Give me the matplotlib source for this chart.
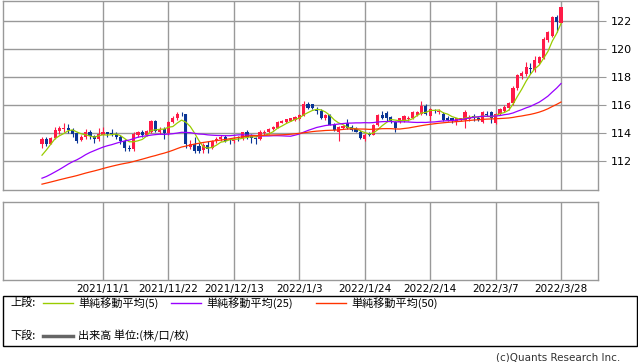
import numpy as np
import pandas as pd
import matplotlib
matplotlib.use("Agg")
import matplotlib.pyplot as plt
from matplotlib.patches import Rectangle
from matplotlib.lines import Line2D

jp = ["Noto Sans CJK JP", "DejaVu Sans"]

# closes before the first drawn candle (only used for the moving averages)
prior_closes = [109.5, 109.8, 110.25, 110.3, 110.6, 110.4, 110.4, 109.6, 109.25, 109.6,
                109.8, 109.75, 109.8, 109.7, 109.7, 110.05, 110.05, 109.85, 109.9, 110.0,
                110.0, 109.95, 109.7, 109.8, 110.3, 110.25, 109.7, 109.9, 110.0, 109.7,
                109.4, 109.7, 109.95, 109.4, 109.2, 109.8, 110.3, 110.7, 111.0, 111.5,
                112.0, 111.3, 111.05, 110.95, 111.45, 111.4, 111.6, 112.2, 113.3]

opens = [113.25, 113.6, 113.25, 113.65, 114.15, 114.3, 114.4, 114.25, 114.0, 113.5,
         113.7, 114.1, 113.8, 113.55, 113.9, 114.05, 114.0, 113.95, 113.75, 113.4,
         112.95, 112.85, 113.9, 114.1, 113.9, 114.1, 114.85, 114.1, 114.3, 114.0,
         114.8, 115.05, 115.4, 115.35, 113.0, 113.2, 113.1, 112.8, 113.15, 112.95,
         113.45, 113.55, 113.75, 113.45, 113.4, 113.75, 113.65, 114.05, 113.8, 113.65,
         113.55, 114.0, 114.05, 114.3, 114.4, 114.75, 114.8, 114.9, 114.95, 115.0,
         115.25, 116.1, 116.05, 115.75, 115.6, 115.1, 115.3, 114.6, 114.1, 114.35,
         114.7, 114.45, 114.3, 114.1, 113.55, 113.95, 113.9, 114.55, 115.3, 115.45,
         115.15, 114.8, 114.8, 114.85, 115.0, 115.1, 115.3, 115.4, 115.95, 115.25,
         115.65, 115.5, 115.4, 115.1, 115.05, 114.8, 114.95, 114.95, 115.0, 115.2,
         115.1, 114.8, 115.35, 115.5, 114.7, 115.4, 115.6, 115.8, 116.12, 117.25,
         118.1, 118.2, 118.65, 118.5, 119.05, 119.35, 120.65, 120.95, 122.3, 121.9]
highs = [113.75, 113.7, 113.75, 114.45, 114.5, 114.7, 114.65, 114.35, 114.1, 113.9,
         114.3, 114.2, 113.9, 114.35, 114.45, 114.1, 114.3, 114.1, 113.85, 113.55,
         113.15, 114.05, 114.15, 114.2, 114.25, 114.95, 114.95, 114.45, 114.45, 114.85,
         115.2, 115.5, 115.5, 115.4, 113.5, 113.7, 113.3, 113.3, 113.4, 113.5,
         113.75, 113.9, 113.85, 113.65, 113.7, 113.8, 114.1, 114.2, 113.95, 113.75,
         114.2, 114.2, 114.35, 114.5, 114.85, 114.95, 115.0, 115.1, 115.2, 115.35,
         116.3, 116.2, 116.1, 115.85, 115.7, 115.35, 115.4, 114.7, 114.5, 114.6,
         115.0, 114.55, 114.45, 114.2, 114.0, 114.05, 114.65, 115.4, 115.6, 115.55,
         115.2, 114.85, 115.1, 115.3, 115.2, 115.6, 115.6, 116.3, 116.1, 115.8,
         115.75, 115.7, 115.5, 115.2, 115.1, 115.1, 115.1, 115.65, 115.3, 115.4,
         115.2, 115.6, 115.55, 115.55, 115.45, 115.8, 116.0, 116.2, 117.35, 118.2,
         118.45, 119.1, 119.0, 119.5, 119.5, 120.85, 121.3, 122.4, 122.45, 123.05]
lows = [112.95, 113.1, 113.2, 113.6, 113.95, 114.1, 114.0, 113.75, 113.3, 113.4,
        113.6, 113.6, 113.3, 113.45, 113.85, 113.7, 113.8, 113.55, 113.2, 112.75,
        112.7, 112.75, 113.75, 113.7, 113.8, 114.0, 114.05, 113.95, 113.55, 113.9,
        114.7, 114.95, 115.25, 112.95, 112.85, 112.55, 112.6, 112.55, 112.6, 112.85,
        113.3, 113.4, 113.35, 113.25, 113.3, 113.45, 113.5, 113.6, 113.3, 113.2,
        113.5, 113.9, 113.95, 114.25, 114.35, 114.7, 114.75, 114.85, 114.9, 114.95,
        115.2, 115.75, 115.7, 115.4, 115.0, 114.95, 114.55, 114.15, 113.45, 114.3,
        114.3, 114.15, 114.05, 113.55, 113.4, 113.8, 113.85, 114.5, 115.0, 114.9,
        114.75, 114.05, 114.7, 114.8, 114.9, 115.0, 115.25, 115.3, 115.3, 114.85,
        115.45, 115.4, 114.9, 114.85, 114.75, 114.55, 114.9, 114.35, 114.9, 114.9,
        114.85, 114.7, 115.2, 114.75, 114.65, 115.3, 115.5, 115.65, 116.0, 117.1,
        117.9, 118.1, 118.2, 118.4, 118.95, 119.3, 120.55, 120.9, 121.25, 121.85]
closes = [113.6, 113.25, 113.65, 114.2, 114.35, 114.4, 114.25, 113.95, 113.45, 113.7,
          114.05, 113.8, 113.55, 113.95, 114.05, 113.95, 113.95, 113.75, 113.4, 112.95,
          112.85, 113.95, 114.1, 113.9, 114.15, 114.85, 114.15, 114.3, 114.0, 114.8,
          115.1, 115.4, 115.35, 113.25, 113.25, 112.7, 112.7, 113.15, 112.85, 113.45,
          113.55, 113.75, 113.45, 113.4, 113.6, 113.65, 114.05, 113.75, 113.65, 113.55,
          114.1, 114.1, 114.3, 114.45, 114.8, 114.88, 114.98, 115.05, 115.15, 115.3,
          116.05, 115.8, 115.8, 115.55, 115.1, 115.3, 114.6, 114.2, 114.45, 114.5,
          114.35, 114.2, 114.1, 113.65, 113.9, 113.85, 114.55, 115.3, 115.05, 115.05,
          114.9, 114.35, 115.05, 115.2, 115.05, 115.5, 115.5, 115.95, 115.4, 115.75,
          115.55, 115.6, 114.95, 114.95, 114.85, 115.05, 115.05, 115.5, 115.15, 115.05,
          114.95, 115.5, 115.3, 115.05, 115.4, 115.7, 115.9, 116.12, 117.25, 118.15,
          118.3, 118.75, 118.6, 119.2, 119.45, 120.75, 121.2, 122.3, 121.95, 123.0]

tick_dates = ["2021-11-01", "2021-11-22", "2021-12-13", "2022-01-03",
              "2022-01-24", "2022-02-14", "2022-03-07", "2022-03-28"]
tick_labels = ["2021/11/1", "2021/11/22", "2021/12/13", "2022/1/3",
               "2022/1/24", "2022/2/14", "2022/3/7", "2022/3/28"]
ma_windows = [5, 25, 50]
ma_colors = ["#99cc00", "#9900ff", "#ff3300"]

dates = pd.bdate_range("2021-10-12", periods=len(closes))
x = np.arange(len(closes))
tick_pos = [dates.get_loc(pd.Timestamp(d)) for d in tick_dates]

all_close = pd.Series(prior_closes + closes)
n = len(closes)

fig = plt.figure(figsize=(6.38, 3.62), dpi=100)
ax = fig.add_axes([3 / 638, 1 - 190 / 362, 595 / 638, 189 / 362])
ax2 = fig.add_axes([3 / 638, 1 - 280 / 362, 595 / 638, 78 / 362])

up_c, dn_c = "#ff1a47", "#0a3595"
for i in x:
    o, h, l, c = opens[i], highs[i], lows[i], closes[i]
    col = up_c if c >= o else dn_c
    ax.vlines(i, l, h, color=col, lw=0.8, zorder=3)
    ax.bar(i, max(abs(c - o), 0.04), bottom=min(o, c), width=0.72,
           color=col, zorder=3, linewidth=0)

for w, col in zip(ma_windows, ma_colors):
    ma = all_close.rolling(w).mean().values[-n:]
    ax.plot(x, ma, color=col, lw=0.9, zorder=4)

xlim = (-8.94, 127.48)
grid_c = "#999999"
for a in (ax, ax2):
    a.set_xlim(*xlim)
    a.set_xticks(tick_pos)
    for s in a.spines.values():
        s.set_color(grid_c)
        s.set_linewidth(1)

ax.set_ylim(109.93, 123.45)
ax.set_yticks(range(112, 123, 2))
ax.yaxis.tick_right()
ax.grid(True, color=grid_c, lw=1, zorder=0)
ax.tick_params(axis="x", length=0, labelbottom=False)
ax.tick_params(axis="y", length=6, color=grid_c, labelsize=8, pad=3)

ax2.set_yticks([])
ax2.grid(True, axis="x", color=grid_c, lw=1)
ax2.set_xticklabels(tick_labels)
ax2.tick_params(axis="x", length=0, labelsize=7.5, pad=3)

# legend box
fig.add_artist(Rectangle((3 / 638, 1 - 346 / 362), 634 / 638, 50 / 362,
                         transform=fig.transFigure, fill=False, ec="black", lw=1))
row1, row2 = 1 - 303 / 362, 1 - 336 / 362
fig.text(10 / 638, row1, "上段:", va="center", fontsize=8, family=jp)
fig.text(10 / 638, row2, "下段:", va="center", fontsize=8, family=jp)
for x0, col, w in zip([43, 171, 316], ma_colors, ma_windows):
    fig.add_artist(Line2D([x0 / 638, (x0 + 30) / 638], [row1, row1], color=col,
                          lw=1, transform=fig.transFigure))
    fig.text((x0 + 35) / 638, row1, f"単純移動平均({w})", va="center",
             fontsize=8, family=jp)
fig.add_artist(Line2D([43 / 638, 73 / 638], [row2, row2], color="#666666",
                      lw=2.5, transform=fig.transFigure))
fig.text(78 / 638, row2, "出来高 単位:(株/口/枚)", va="center", fontsize=8, family=jp)

fig.text(620 / 638, 1 - 357 / 362, "(c)Quants Research Inc.", ha="right",
         va="center", fontsize=7.5, color="#333333")

fig.savefig("out.png", dpi=100)
